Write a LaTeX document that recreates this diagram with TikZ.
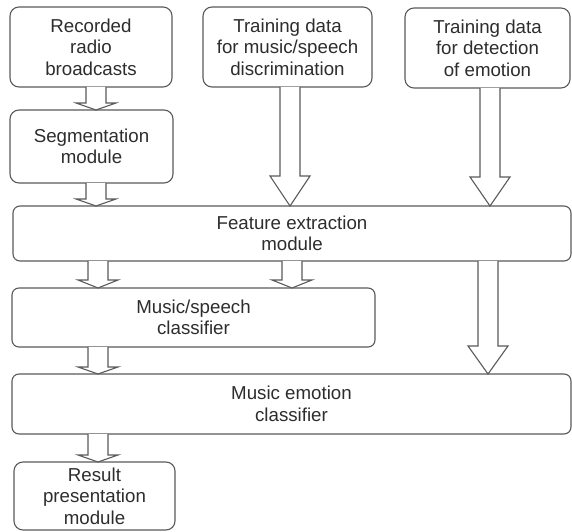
\documentclass[tikz,border=0pt]{standalone}
\usepackage{fontspec}
\setmainfont{Liberation Sans}
\usetikzlibrary{calc}
\definecolor{linec}{RGB}{90,90,90}
\definecolor{textc}{RGB}{45,45,45}
\tikzset{
  box/.style={draw=linec, line width=1.1pt, rounded corners=9pt, fill=white,
    inner sep=0pt, outer sep=0pt, align=center, text=textc,
    font=\fontsize{18.7}{21.5}\selectfont},
  wbox/.style={box, rounded corners=7pt},
  arr/.style={draw=linec, line width=1.1pt, fill=white, line join=miter},
}
% #1 x centre, #2 from node, #3 to node, #4 head length
\newcommand\barrow[4]{%
  \draw[arr] let \p1=(#2.south), \p2=(#3.north) in
    (#1-10,\y1) -- (#1-10,\y2+#4) -- (#1-20,\y2+#4) -- (#1,\y2)
    -- (#1+20,\y2+#4) -- (#1+10,\y2+#4) -- (#1+10,\y1);
}
\begin{document}
\begin{tikzpicture}[x=1pt,y=1pt]
\useasboundingbox (0,0) rectangle (572,531);
\node[box, minimum width=162, minimum height=80] (rec) at (91,484) {Recorded\\radio\\broadcasts};
\node[box, minimum width=169, minimum height=80] (tr1) at (287.5,484) {Training data\\for music/speech\\discrimination};
\node[box, minimum width=165, minimum height=80] (tr2) at (487.5,483) {Training data\\for detection\\of emotion};
\node[box, minimum width=163, minimum height=73] (seg) at (91.5,384.5) {Segmentation\\module};
\node[wbox, minimum width=558, minimum height=55] (feat) at (292,297.5) {Feature extraction\\module};
\node[wbox, minimum width=363, minimum height=59] (ms) at (193.5,213.5) {Music/speech\\classifier};
\node[wbox, minimum width=559, minimum height=60] (emo) at (291.5,127) {Music emotion\\classifier};
\node[box, minimum width=161, minimum height=68] (res) at (94.5,35) {Result\\presentation\\module};
\barrow{96}{rec}{seg}{7}
\barrow{96}{seg}{feat}{7}
\barrow{290}{tr1}{feat}{30}
\barrow{490}{tr2}{feat}{29}
\barrow{98}{feat}{ms}{8}
\barrow{292}{feat}{ms}{8}
\barrow{488}{feat}{emo}{28}
\barrow{98}{ms}{emo}{7}
\barrow{98}{emo}{res}{7}
\end{tikzpicture}
\end{document}
